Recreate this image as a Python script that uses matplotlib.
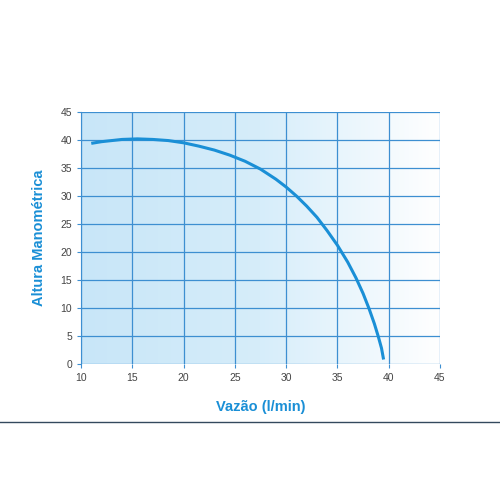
import numpy as np
import matplotlib
matplotlib.use("Agg")
import matplotlib.pyplot as plt
from matplotlib.colors import LinearSegmentedColormap

plt.rcParams["font.family"] = ["Liberation Sans", "DejaVu Sans"]

vazao = [11, 12, 13, 14, 15.5, 17, 18.5, 20, 21.5, 23, 24.5, 26, 27.5, 29, 30,
         31, 32, 33, 34, 35, 36, 36.8, 37.5, 38.1, 38.6, 39.0, 39.3, 39.5]
altura = [39.4, 39.7, 39.9, 40.1, 40.2, 40.1, 39.9, 39.5, 38.9, 38.2, 37.3, 36.2,
          34.8, 33.0, 31.6, 30.0, 28.2, 26.2, 23.8, 21.2, 18.2, 15.4, 12.6, 9.8,
          7.2, 4.8, 2.8, 0.8]

x_ticks = list(range(10, 50, 5))
y_ticks = list(range(0, 50, 5))

fig = plt.figure(figsize=(5, 5), dpi=100)
ax = fig.add_axes((0.162, 0.272, 0.718, 0.504))

cmap = LinearSegmentedColormap.from_list("bg", ["#c8e6f8", "#d6edfa", "#ffffff"])
grad = np.linspace(0, 1, 256).reshape(1, -1)
ax.imshow(grad, cmap=cmap, extent=(10, 45, 0, 45), aspect="auto", zorder=0)

ax.set_xlim(10, 45)
ax.set_ylim(0, 45)
ax.set_xticks(x_ticks)
ax.set_yticks(y_ticks)
ax.grid(True, color="#3d8fd1", linewidth=0.9, zorder=1)
for s in ax.spines.values():
    s.set_visible(False)
ax.spines["left"].set_visible(True)
ax.spines["left"].set_color("#3d8fd1")
ax.tick_params(colors="#3d8fd1", labelcolor="#444444", labelsize=7.5, length=3)

ax.plot(vazao, altura, color="#1a8fd6", linewidth=2.2, zorder=3, solid_capstyle="butt")

ax.set_xlabel("Vazão (l/min)", color="#1a8fd6", fontsize=10.5, fontweight="bold", labelpad=12)
ax.set_ylabel("Altura Manométrica", color="#1a8fd6", fontsize=10.5, fontweight="bold", labelpad=10)

fig.add_artist(plt.Line2D([0, 1], [0.156, 0.156], color="#33495e", linewidth=1))

fig.savefig("out.png", dpi=100)
